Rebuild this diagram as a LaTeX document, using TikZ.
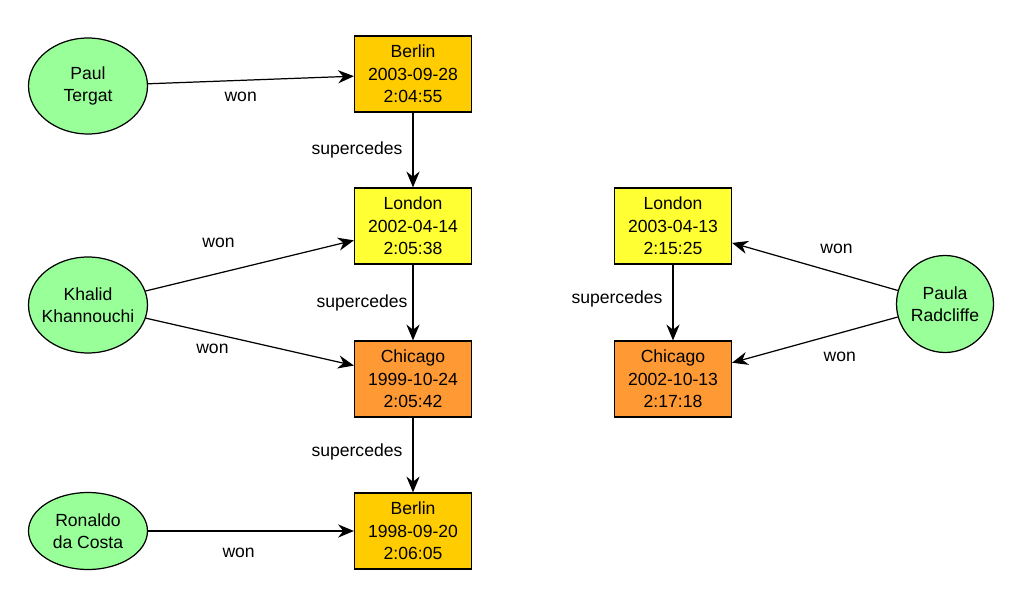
\documentclass[tikz,border=0pt]{standalone}
\usepackage{fontspec}
\setmainfont{Liberation Sans}
\usetikzlibrary{shapes,arrows.meta,positioning}
\definecolor{runnergreen}{RGB}{153,255,153}
\definecolor{berlinorange}{RGB}{255,204,0}
\definecolor{londonyellow}{RGB}{255,255,51}
\definecolor{chicagoorange}{RGB}{255,153,51}

\begin{document}
\begin{tikzpicture}[x=0.02cm, y=-0.02cm, line width=0.7pt,
    font=\fontsize{10}{12.75}\selectfont,
    runner/.style={draw, ellipse, fill=runnergreen, minimum width=2.38cm, minimum height=1.92cm, align=center, inner sep=0pt, inner xsep=-6pt},
    race/.style={draw, rectangle, minimum width=2.34cm, minimum height=1.52cm, align=center, inner sep=0pt},
    rel/.style={-{Stealth[length=9pt, width=7.5pt]}},
    lbl/.style={inner sep=0pt, anchor=center}]
  \useasboundingbox (0,0) rectangle (1031,611);

  % runners
  \node[runner] (tergat) at (88,86) {Paul\\Tergat};
  \node[runner] (khannouchi) at (88,305) {Khalid\\Khannouchi};
  \node[runner, minimum height=1.54cm] (dacosta) at (88,531) {Ronaldo\\da Costa};
  \node[runner, circle, minimum size=1.94cm] (radcliffe) at (945,304) {Paula\\Radcliffe};

  % records, men
  \node[race, fill=berlinorange] (berlinA) at (413,74) {Berlin\\2003-09-28\\2:04:55};
  \node[race, fill=londonyellow] (londonA) at (413,226) {London\\2002-04-14\\2:05:38};
  \node[race, fill=chicagoorange] (chicagoA) at (413,379) {Chicago\\1999-10-24\\2:05:42};
  \node[race, fill=berlinorange] (berlinB) at (413,531) {Berlin\\1998-09-20\\2:06:05};

  % records, women
  \node[race, fill=londonyellow] (londonB) at (673,226) {London\\2003-04-13\\2:15:25};
  \node[race, fill=chicagoorange] (chicagoB) at (673,379) {Chicago\\2002-10-13\\2:17:18};

  \draw[rel] (tergat) -- node[lbl, pos=0.45, yshift=-9.5pt] {won} (berlinA);
  \draw[rel] (khannouchi) -- node[lbl, pos=0.35, yshift=17.5pt] {won} (londonA);
  \draw[rel] (khannouchi) -- node[lbl, pos=0.32, yshift=-9pt] {won} (chicagoA);
  \draw[rel] (dacosta) -- node[lbl, pos=0.44, yshift=-12.5pt] {won} (berlinB);
  \draw[rel] (radcliffe) -- node[lbl, pos=0.37, yshift=13.4pt] {won} (londonB);
  \draw[rel] (radcliffe) -- node[lbl, pos=0.35, yshift=-13.3pt] {won} (chicagoB);

  \draw[rel] (berlinA) -- node[lbl, anchor=east, pos=0.5, xshift=-5.7pt] {supercedes} (londonA);
  \draw[rel] (londonA) -- node[lbl, anchor=east, pos=0.5, xshift=-2.8pt] {supercedes} (chicagoA);
  \draw[rel] (chicagoA) -- node[lbl, anchor=east, pos=0.46, xshift=-5.7pt] {supercedes} (berlinB);
  \draw[rel] (londonB) -- node[lbl, anchor=east, pos=0.45, xshift=-5.7pt] {supercedes} (chicagoB);
\end{tikzpicture}
\end{document}
